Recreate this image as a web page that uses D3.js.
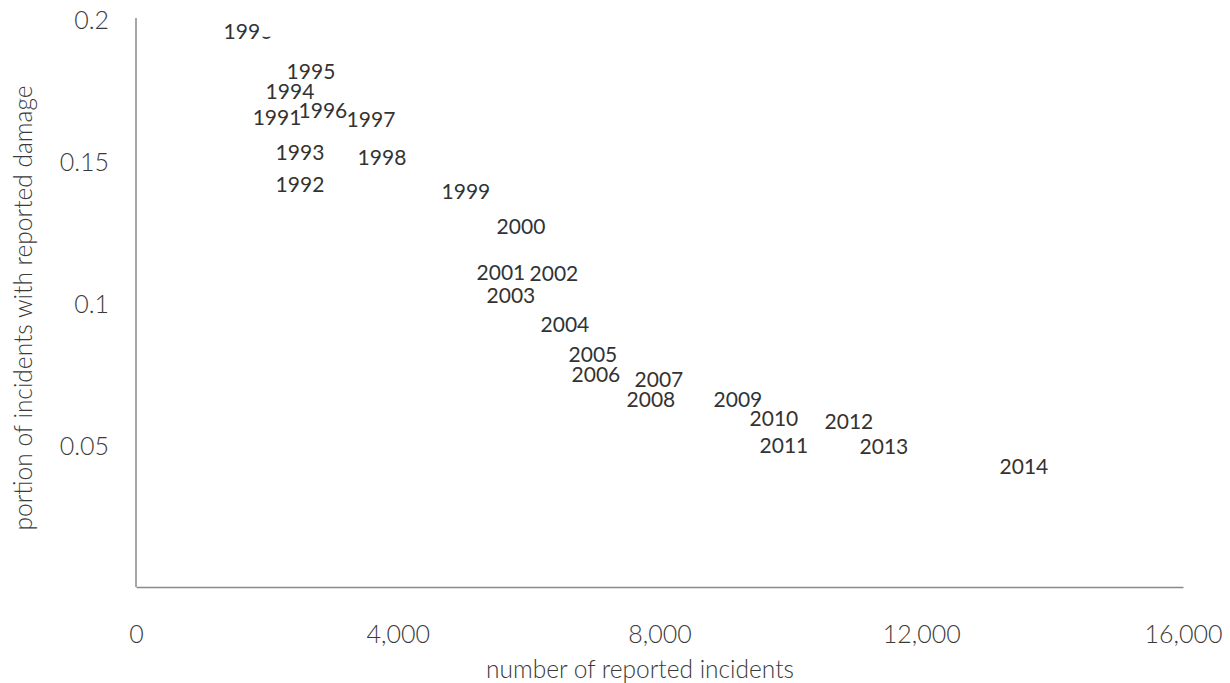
<!DOCTYPE html>
<html>
<head>
<meta charset="utf-8">
<script src="https://cdn.jsdelivr.net/npm/d3@7"></script>
<style>
  body { margin: 0; background: #fff; }
  text { font-family: Lato, "Open Sans", sans-serif; }
</style>
</head>
<body>
<svg id="chart" width="1230" height="683"></svg>
<script>
// year labels placed at (incidents, share with damage)
const years = ['1990', '1991', '1992', '1993', '1994', '1995', '1996', '1997', '1998', '1999',
  '2000', '2001', '2002', '2003', '2004', '2005', '2006', '2007', '2008', '2009',
  '2010', '2011', '2012', '2013', '2014'];
const incidents = [1711, 2155, 2506, 2506, 2353, 2674, 2857, 3591, 3759, 5042,
  5883, 5577, 6387, 5730, 6555, 6983, 7029, 7991, 7869, 9199,
  9749, 9901, 10895, 11429, 13569];
const damageShare = [0.196, 0.1656, 0.142, 0.1533, 0.1747, 0.1817, 0.168, 0.1649, 0.1515, 0.1395,
  0.1272, 0.1111, 0.1107, 0.103, 0.0928, 0.0822, 0.0752, 0.0735, 0.0664, 0.0664,
  0.0598, 0.0503, 0.0587, 0.0499, 0.0429];
const xTicks = [0, 4000, 8000, 12000, 16000];
const yTicks = [0.05, 0.1, 0.15, 0.2];

const svg = d3.select('#chart');

const x = d3.scaleLinear().domain([0, 16000]).range([136, 1183]);
const y = d3.scaleLinear().domain([0, 0.2]).range([589, 20]);

// x axis
const xAxis = svg.append('g')
    .attr('transform', 'translate(0,587)')
    .call(d3.axisBottom(x).tickValues(xTicks).tickSize(0).tickPadding(38).tickFormat(d3.format(',')));
xAxis.select('.domain').attr('stroke', '#8a8a8a').attr('stroke-width', 1.5);
xAxis.selectAll('text').attr('font-size', 25).attr('font-weight', 300).attr('fill', '#3a3a3a');

// y axis
const yAxis = svg.append('g')
    .attr('transform', 'translate(136,0)')
    .call(d3.axisLeft(y).tickValues(yTicks).tickSize(0).tickPadding(27).tickFormat(d => d));
yAxis.select('.domain').attr('stroke', '#8a8a8a').attr('stroke-width', 1.5)
    .attr('d', 'M0,18V587');
yAxis.selectAll('text').attr('font-size', 25).attr('font-weight', 300).attr('fill', '#3a3a3a');

// axis titles
svg.append('text')
    .attr('x', 640).attr('y', 678)
    .attr('text-anchor', 'middle')
    .attr('font-size', 24.5).attr('font-weight', 300).attr('fill', '#3a3a3a')
    .text('number of reported incidents');

svg.append('text')
    .attr('transform', 'translate(32,308) rotate(-90)')
    .attr('text-anchor', 'middle')
    .attr('font-size', 24.5).attr('font-weight', 300).attr('fill', '#3a3a3a')
    .text('portion of incidents with reported damage');

// year labels
const labels = svg.append('g').selectAll('text')
    .data(years)
    .join('text')
    .attr('x', (d, i) => x(incidents[i]))
    .attr('y', (d, i) => y(damageShare[i]))
    .attr('text-anchor', 'middle')
    .attr('dy', '0.35em')
    .attr('font-size', 21)
    .attr('fill', '#333')
    .text(d => d);

// the 1990 label is partly hidden in the original, only a sliver of the last digit shows
const first = labels.filter(d => d === '1990').node();
const box = first.getBBox();
const cut = first.getSubStringLength(0, 3);
svg.append('rect')
    .attr('x', box.x + cut)
    .attr('y', box.y)
    .attr('width', box.width - cut + 2)
    .attr('height', box.height - 6)
    .attr('fill', '#fff');
</script>
</body>
</html>
